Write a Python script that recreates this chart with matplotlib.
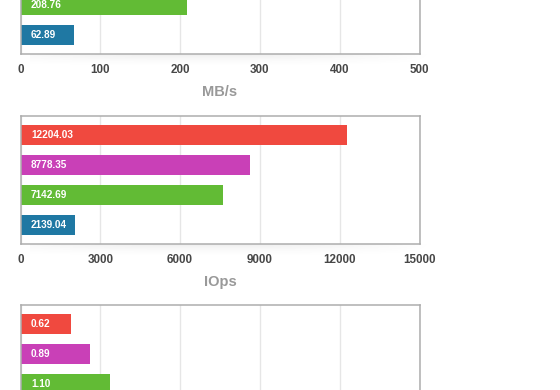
import numpy as np
import matplotlib
matplotlib.use("Agg")
import matplotlib.pyplot as plt
from matplotlib.transforms import offset_copy

plt.rcParams['font.family'] = ['Liberation Sans', 'DejaVu Sans']

# ---- data ----
colors = ['#1f78a3', '#62bb35', '#c940b7', '#f0493f']  # bottom -> top: blue, green, magenta, red

# Panel 1 (MB/s) - only the two lower bars are visible
mbs_values = [67.4, 208.6]
mbs_labels = ['62.89', '208.76']
mbs_ticks = [0, 100, 200, 300, 400, 500]

# Panel 2 (IOps)
iops_values = [2049, 7602, 8628, 12274]
iops_labels = ['2139.04', '7142.69', '8778.35', '12204.03']
iops_ticks = [0, 3000, 6000, 9000, 12000, 15000]

# Panel 3 (latency) - only the three upper bars are visible
lat_values = [1.12, 0.871, 0.633]
lat_labels = ['1.10', '0.89', '0.62']
lat_positions = [1, 2, 3]
lat_ticks = [0, 1, 2, 3, 4, 5]

W, H = 560, 390
fig = plt.figure(figsize=(W / 100, H / 100), dpi=100)

left_px, width_px, height_px = 20.5, 399, 128


def shadow(bottom_px):
    # faint drop shadow beneath the bottom border
    sax = fig.add_axes([30 / W, (H - bottom_px - 14) / H, 460 / W, 14 / H])
    sax.set_axis_off()
    x = np.linspace(-1, 1, 300)
    y = np.linspace(0, 1, 30)
    X, Y = np.meshgrid(x, y)
    a = np.clip(1 - np.abs(X + 0.25) ** 2, 0, 1) * (Y ** 2) * 0.10
    img = np.zeros((30, 300, 4))
    img[..., :3] = 0.3
    img[..., 3] = a
    sax.imshow(img, aspect='auto', extent=[0, 1, 0, 1], origin='lower')
    sax.set_zorder(0)


def panel(top_px, positions, values, labels, ticks, xlabel, bar_colors,
          show_ticklabels=True):
    shadow(top_px + height_px)
    ax = fig.add_axes([left_px / W, (H - top_px - height_px) / H,
                       width_px / W, height_px / H])
    ax.set_zorder(1)
    ax.barh(positions, values, height=0.667, color=bar_colors, zorder=2)
    ax.set_xlim(ticks[0], ticks[-1])
    ax.set_ylim(-0.633, 3.633)
    ax.set_xticks(ticks)
    if show_ticklabels:
        ax.set_xticklabels([str(t) for t in ticks])
    else:
        ax.set_xticklabels([])
    ax.set_yticks([])
    ax.grid(axis='x', color='#e6e6e6', linewidth=1.0, zorder=0)
    ax.set_axisbelow(True)
    for s in ax.spines.values():
        s.set_color('#adadad')
        s.set_linewidth(1.1)
    ax.tick_params(axis='x', length=0, pad=7.5, labelsize=8.4,
                   labelcolor='#474747')
    for lab in ax.get_xticklabels():
        lab.set_fontweight('bold')
    if xlabel:
        ax.set_xlabel(xlabel, fontsize=10.5, color='#999999',
                      fontweight='bold', labelpad=6.5)
    tr = offset_copy(ax.transData, fig=fig, x=7.5, y=0, units='points')
    for p, lab in zip(positions, labels):
        ax.text(0, p, lab, transform=tr, ha='left', va='center',
                color='white', fontsize=7.2, fontweight='bold', zorder=3)
    return ax


panel(54 - height_px, [0, 1], mbs_values, mbs_labels, mbs_ticks, 'MB/s',
      colors[:2])
panel(116, [0, 1, 2, 3], iops_values, iops_labels, iops_ticks, 'IOps',
      colors)
panel(305.3, lat_positions, lat_values, lat_labels, lat_ticks, None,
      colors[1:], show_ticklabels=False)

fig.savefig('out.png', dpi=100, facecolor='white')
